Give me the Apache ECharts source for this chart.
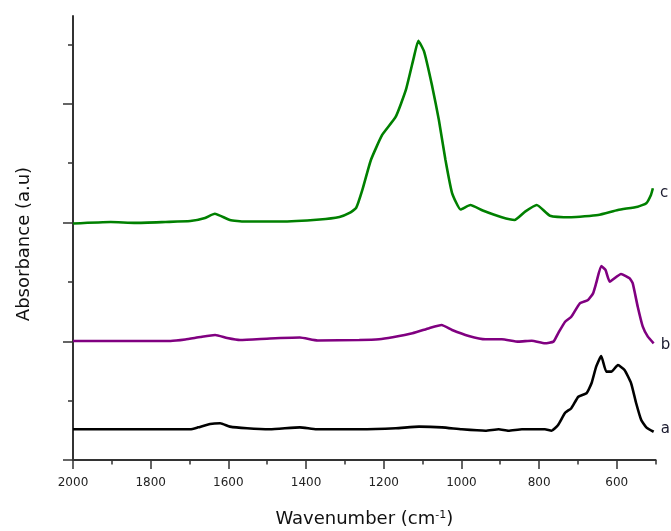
<!DOCTYPE html>
<html>
<head>
<meta charset="utf-8">
<script src="https://cdn.jsdelivr.net/npm/echarts@6/dist/echarts.min.js"></script>
<style>
  html, body { margin: 0; padding: 0; background: #ffffff; }
  #chart { width: 671px; height: 531px; }
</style>
</head>
<body>
<div id="chart"></div>
<script>
// FTIR spectra, stacked with vertical offsets (a.u.)
const wnA = [2000, 1698, 1678, 1647, 1621, 1596, 1552, 1493, 1416, 1373, 1263, 1169, 1109, 1050, 999, 938, 904, 879, 844, 785, 768, 751, 733, 717, 699, 678, 665, 653, 640, 627, 614, 597, 580, 563, 550, 537, 524, 505];
const absA = [0.259, 0.259, 0.275, 0.303, 0.309, 0.281, 0.267, 0.259, 0.275, 0.259, 0.259, 0.267, 0.281, 0.275, 0.259, 0.247, 0.259, 0.247, 0.259, 0.259, 0.247, 0.295, 0.398, 0.436, 0.533, 0.562, 0.646, 0.786, 0.876, 0.744, 0.744, 0.800, 0.758, 0.646, 0.478, 0.337, 0.275, 0.238];

const wnB = [2000, 1749, 1711, 1672, 1634, 1603, 1570, 1493, 1416, 1370, 1263, 1212, 1177, 1126, 1083, 1051, 1024, 981, 938, 896, 853, 819, 785, 763, 751, 733, 717, 695, 674, 661, 653, 640, 629, 618, 589, 567, 559, 546, 533, 520, 505];
const absB = [1.003, 1.003, 1.015, 1.036, 1.053, 1.028, 1.011, 1.024, 1.032, 1.007, 1.011, 1.017, 1.034, 1.067, 1.110, 1.137, 1.095, 1.045, 1.017, 1.017, 0.997, 1.005, 0.983, 0.997, 1.067, 1.165, 1.207, 1.320, 1.348, 1.404, 1.489, 1.634, 1.601, 1.502, 1.567, 1.531, 1.489, 1.291, 1.123, 1.039, 0.983];

const wnC = [2000, 1903, 1839, 1762, 1698, 1660, 1635, 1596, 1558, 1468, 1365, 1314, 1288, 1271, 1255, 1233, 1204, 1169, 1143, 1122, 1111, 1096, 1075, 1058, 1041, 1024, 1002, 977, 945, 896, 863, 836, 806, 772, 717, 648, 597, 546, 524, 512, 507];
const absC = [1.992, 2.005, 1.997, 2.005, 2.013, 2.039, 2.074, 2.022, 2.009, 2.009, 2.026, 2.047, 2.081, 2.123, 2.275, 2.527, 2.738, 2.892, 3.117, 3.398, 3.532, 3.440, 3.145, 2.864, 2.527, 2.249, 2.110, 2.148, 2.102, 2.045, 2.022, 2.092, 2.148, 2.058, 2.045, 2.064, 2.106, 2.134, 2.163, 2.233, 2.289];

const seriesNames = ['a', 'b', 'c'];
const seriesColors = ['#000000', '#800080', '#008000'];

// Axis ticks
const xMajorTicks = [2000, 1800, 1600, 1400, 1200, 1000, 800, 600];
const xMinorTicks = [1900, 1700, 1500, 1300, 1100, 900, 700, 500];
const yMajorTicks = [0, 1, 2, 3];
const yMinorTicks = [0.5, 1.5, 2.5, 3.5];

const FONT = 'DejaVu Sans';
const AXIS_COLOR = '#333333';

function pairs(xs, ys) {
  return xs.map((x, i) => [x, ys[i]]);
}

// vertical nudge of each curve's end tag, in pixels
const tagOffsets = [[1, -3], [1, 2], [1, 5]];
const sets = [[wnA, absA], [wnB, absB], [wnC, absC]];

const chart = echarts.init(document.getElementById('chart'), null, { renderer: 'canvas' });

const xBase = {
  type: 'value',
  inverse: true,
  min: 500,
  max: 2000,
  gridIndex: 0,
  position: 'bottom',
  splitLine: { show: false }
};
const yBase = {
  type: 'value',
  min: 0,
  max: 3.74,
  gridIndex: 0,
  position: 'left',
  offset: 0,
  splitLine: { show: false },
  axisLabel: { show: false }
};

chart.setOption({
  animation: false,
  backgroundColor: '#ffffff',
  grid: { left: 73, right: 15.4, top: 16, bottom: 71, containLabel: false, outerBoundsMode: 'none' },
  xAxis: [
    Object.assign({}, xBase, {
      axisLine: { show: true, lineStyle: { color: AXIS_COLOR, width: 2 } },
      axisTick: { show: true, inside: false, length: 9, customValues: xMajorTicks, lineStyle: { color: AXIS_COLOR, width: 1.5 } },
      axisLabel: {
        show: true, margin: 17, customValues: xMajorTicks,
        formatter: (v) => String(v),
        color: '#222222', fontFamily: FONT, fontSize: 12
      },
      name: 'Wavenumber (cm{sup|-1})',
      nameLocation: 'middle',
      nameGap: 50,
      nameTextStyle: {
        color: '#111111', fontFamily: FONT, fontSize: 18,
        rich: { sup: { color: '#111111', fontFamily: FONT, fontSize: 11, verticalAlign: 'top' } }
      }
    }),
    Object.assign({}, xBase, {
      axisLine: { show: false },
      axisTick: { show: true, inside: false, length: 4.5, customValues: xMinorTicks, lineStyle: { color: AXIS_COLOR, width: 1.5 } },
      axisLabel: { show: false }
    })
  ],
  yAxis: [
    Object.assign({}, yBase, {
      axisLine: { show: true, lineStyle: { color: AXIS_COLOR, width: 2 } },
      axisTick: { show: true, inside: false, length: 10, customValues: yMajorTicks, lineStyle: { color: AXIS_COLOR, width: 1.5 } },
      name: 'Absorbance (a.u)',
      nameLocation: 'middle',
      nameGap: 40,
      nameTextStyle: { color: '#111111', fontFamily: FONT, fontSize: 18, padding: [0, 12, 0, 0] }
    }),
    Object.assign({}, yBase, {
      axisLine: { show: false },
      axisTick: { show: true, inside: false, length: 5, customValues: yMinorTicks, lineStyle: { color: AXIS_COLOR, width: 1.5 } }
    })
  ],
  series: sets.map((s, i) => {
    const last = s[0].length - 1;
    return {
      name: seriesNames[i],
      type: 'line',
      xAxisIndex: 0,
      yAxisIndex: 0,
      data: pairs(s[0], s[1]),
      showSymbol: false,
      symbol: 'none',
      smooth: 0.15,
      clip: false,
      lineStyle: { color: seriesColors[i], width: 2.6 },
      itemStyle: { color: seriesColors[i] },
      markPoint: {
        symbol: 'circle',
        symbolSize: 0,
        silent: true,
        data: [{ coord: [s[0][last], s[1][last]] }],
        label: {
          show: true,
          position: 'right',
          distance: 6,
          offset: tagOffsets[i],
          formatter: seriesNames[i],
          color: '#1a1a2e',
          fontFamily: FONT,
          fontSize: 15
        }
      }
    };
  })
});
</script>
</body>
</html>
